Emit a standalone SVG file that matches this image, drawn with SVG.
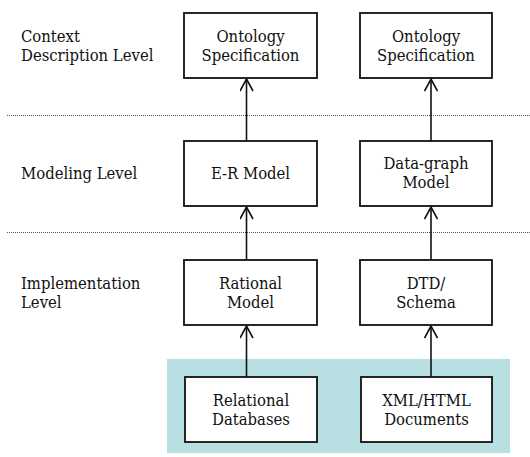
<svg xmlns="http://www.w3.org/2000/svg" width="530" height="457" viewBox="0 0 530 457">
<style>
text{font-family:'DejaVu Serif',serif;font-stretch:condensed;font-size:16.5px;fill:#111}
.c{text-anchor:middle}
.box{fill:#fff;stroke:#111;stroke-width:1.8}
.sep{stroke:#555;stroke-width:1;stroke-dasharray:1 1;fill:none}
.arr{stroke:#111;stroke-width:1.6;fill:none}
</style>
<defs>
<marker id="ah" viewBox="0 0 14 14" refX="13" refY="7" markerWidth="14" markerHeight="14" markerUnits="userSpaceOnUse" orient="auto">
<path d="M1,0.5 L13,7 L1,13.5" fill="none" stroke="#111" stroke-width="1.6"/>
</marker>
</defs>
<rect id="storage-area" x="167" y="359" width="343" height="94" fill="#b8dfe1"/>
<g id="separators">
<line class="sep" x1="7" y1="115.5" x2="530" y2="115.5"/>
<line class="sep" x1="7" y1="232.5" x2="530" y2="232.5"/>
</g>
<g id="level-labels">
<text x="21" y="42">Context</text>
<text x="21" y="61">Description Level</text>
<text x="21" y="179">Modeling Level</text>
<text x="21" y="289">Implementation</text>
<text x="21" y="308">Level</text>
</g>
<g id="connectors">
<line class="arr" x1="246.5" y1="141" x2="246.5" y2="79" marker-end="url(#ah)"/>
<line class="arr" x1="431" y1="141" x2="431" y2="79" marker-end="url(#ah)"/>
<line class="arr" x1="246.5" y1="260" x2="246.5" y2="207" marker-end="url(#ah)"/>
<line class="arr" x1="431" y1="260" x2="431" y2="207" marker-end="url(#ah)"/>
<line class="arr" x1="246.5" y1="377" x2="246.5" y2="326" marker-end="url(#ah)"/>
<line class="arr" x1="431" y1="377" x2="431" y2="326" marker-end="url(#ah)"/>
</g>
<g id="ontology-1">
<rect class="box" x="184" y="13" width="133" height="65"/>
<text class="c" x="250.5" y="41.5">Ontology</text>
<text class="c" x="250.5" y="60.5">Specification</text>
</g>
<g id="ontology-2">
<rect class="box" x="360" y="13" width="132" height="65"/>
<text class="c" x="426" y="41.5">Ontology</text>
<text class="c" x="426" y="60.5">Specification</text>
</g>
<g id="er-model">
<rect class="box" x="184" y="141" width="133" height="65"/>
<text class="c" x="250.5" y="179">E-R Model</text>
</g>
<g id="data-graph-model">
<rect class="box" x="360" y="141" width="132" height="65"/>
<text class="c" x="426" y="169">Data-graph</text>
<text class="c" x="426" y="188">Model</text>
</g>
<g id="rational-model">
<rect class="box" x="184" y="260" width="133" height="65"/>
<text class="c" x="250.5" y="289">Rational</text>
<text class="c" x="250.5" y="308">Model</text>
</g>
<g id="dtd-schema">
<rect class="box" x="360" y="260" width="132" height="65"/>
<text class="c" x="426" y="289">DTD/</text>
<text class="c" x="426" y="308">Schema</text>
</g>
<g id="relational-databases">
<rect class="box" x="185" y="377" width="132" height="65"/>
<text class="c" x="251" y="405.5">Relational</text>
<text class="c" x="251" y="424.5">Databases</text>
</g>
<g id="xml-html-documents">
<rect class="box" x="361" y="377" width="131" height="65"/>
<text class="c" x="426.5" y="405.5">XML/HTML</text>
<text class="c" x="426.5" y="424.5">Documents</text>
</g>
</svg>
